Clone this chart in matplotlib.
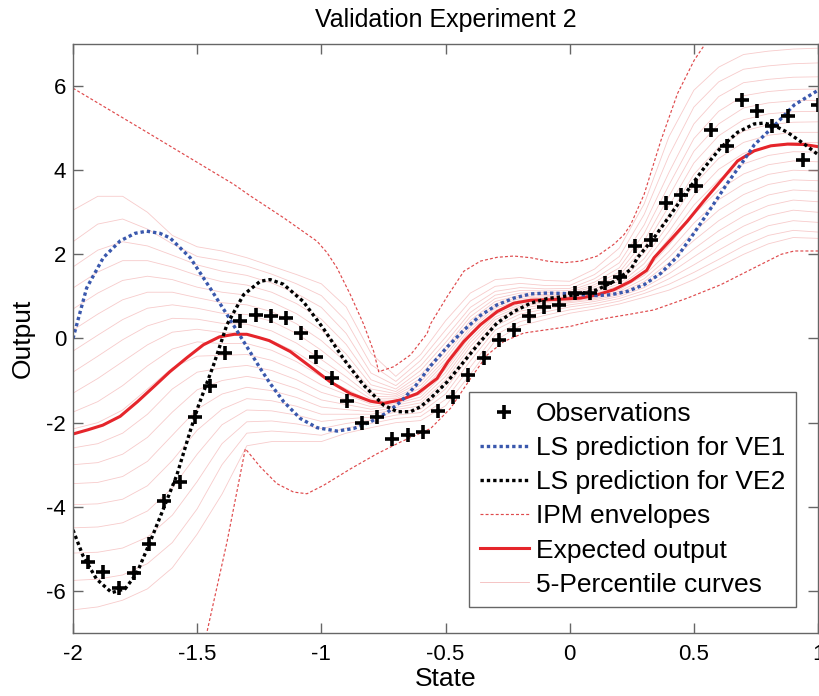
import numpy as np
import matplotlib
matplotlib.use('Agg')
import matplotlib.pyplot as plt

plt.rcParams['font.family'] = ['Liberation Sans', 'DejaVu Sans']
plt.rcParams['axes.unicode_minus'] = False
plt.rcParams['font.size'] = 19

# observations from validation experiment 2
obs_x = [-1.939, -1.878, -1.816, -1.755, -1.694, -1.633, -1.571, -1.510, -1.449, -1.388,
         -1.327, -1.265, -1.204, -1.143, -1.082, -1.020, -0.959, -0.898, -0.837, -0.776,
         -0.714, -0.653, -0.592, -0.531, -0.469, -0.408, -0.347, -0.286, -0.224, -0.163,
         -0.102, -0.041, 0.020, 0.082, 0.143, 0.204, 0.265, 0.327, 0.388, 0.449,
         0.510, 0.571, 0.633, 0.694, 0.755, 0.816, 0.878, 0.939, 1.000]
obs_y = [-5.31, -5.56, -5.92, -5.58, -4.89, -3.87, -3.40, -1.86, -1.13, -0.35,
         0.41, 0.57, 0.53, 0.48, 0.13, -0.43, -0.93, -1.49, -2.00, -1.86,
         -2.39, -2.30, -2.22, -1.73, -1.40, -0.87, -0.47, -0.03, 0.21, 0.54,
         0.76, 0.80, 1.08, 1.08, 1.32, 1.46, 2.20, 2.33, 3.21, 3.41,
         3.63, 4.96, 4.58, 5.66, 5.40, 5.06, 5.30, 4.24, 5.54]

# least squares prediction calibrated on VE1
ve1_x = [-2.0, -1.945, -1.878, -1.81, -1.75, -1.703, -1.65, -1.609, -1.528, -1.448,
         -1.38, -1.313, -1.246, -1.206, -1.152, -1.085, -1.017, -0.937, -0.870, -0.802,
         -0.735, -0.68, -0.62, -0.56, -0.493, -0.426, -0.359, -0.292, -0.225, -0.157,
         -0.09, -0.023, 0.044, 0.111, 0.165, 0.232, 0.30, 0.367, 0.434, 0.50,
         0.569, 0.636, 0.703, 0.743, 0.824, 0.904, 1.0]
ve1_y = [0.0, 1.2, 1.92, 2.32, 2.5, 2.55, 2.5, 2.39, 1.92, 1.20,
         0.57, -0.07, -0.71, -1.07, -1.50, -1.90, -2.12, -2.20, -2.14, -1.98,
         -1.76, -1.5, -1.12, -0.65, -0.2, 0.2, 0.55, 0.80, 0.96, 1.06,
         1.08, 1.07, 1.04, 1.02, 1.04, 1.12, 1.28, 1.55, 1.95, 2.5,
         3.1, 3.7, 4.25, 4.6, 5.06, 5.55, 5.9]

# least squares prediction calibrated on VE2
ve2_x = [-2.0, -1.96, -1.905, -1.844, -1.79, -1.743, -1.69, -1.636, -1.582, -1.528,
         -1.495, -1.434, -1.38, -1.313, -1.246, -1.206, -1.153, -1.073, -0.992, -0.911,
         -0.831, -0.750, -0.694, -0.641, -0.60, -0.56, -0.493, -0.426, -0.359, -0.292,
         -0.225, -0.157, -0.090, -0.023, 0.044, 0.111, 0.179, 0.246, 0.273, 0.340,
         0.407, 0.474, 0.542, 0.609, 0.676, 0.743, 0.783, 0.824, 0.877, 0.945, 1.0]
ve2_y = [-4.55, -5.16, -5.72, -6.04, -5.95, -5.58, -4.84, -4.05, -3.25, -2.2,
         -1.6, -0.63, 0.33, 1.04, 1.36, 1.40, 1.29, 0.88, 0.24, -0.48,
         -1.10, -1.58, -1.74, -1.74, -1.62, -1.42, -1.03, -0.55, -0.07, 0.37,
         0.64, 0.84, 0.95, 1.00, 1.06, 1.16, 1.36, 1.64, 1.92, 2.40,
         2.95, 3.51, 4.06, 4.54, 4.90, 5.10, 5.12, 5.06, 4.90, 4.62, 4.37]

# expected model output
exp_x = [-2.0, -1.94, -1.88, -1.81, -1.74, -1.67, -1.61, -1.54, -1.475, -1.41,
         -1.35, -1.30, -1.25, -1.21, -1.125, -1.044, -0.964, -0.883, -0.802, -0.749,
         -0.681, -0.614, -0.534, -0.49, -0.426, -0.359, -0.292, -0.225, -0.157, -0.09,
         -0.023, 0.044, 0.111, 0.178, 0.246, 0.31, 0.340, 0.407, 0.474, 0.54,
         0.609, 0.676, 0.743, 0.810, 0.877, 0.945, 1.0]
exp_y = [-2.27, -2.17, -2.06, -1.85, -1.50, -1.12, -0.79, -0.45, -0.15, 0.04,
         0.10, 0.10, 0.02, -0.05, -0.31, -0.67, -1.03, -1.31, -1.49, -1.54,
         -1.46, -1.31, -0.95, -0.55, -0.07, 0.33, 0.64, 0.84, 0.91, 0.92,
         0.94, 0.96, 1.04, 1.16, 1.36, 1.62, 1.92, 2.35, 2.79, 3.27,
         3.75, 4.22, 4.46, 4.58, 4.62, 4.61, 4.56]

# IPM envelopes
ipm_up_x = [-2.0, -1.69, -1.354, -1.286, -1.152, -1.017, -0.977, -0.937, -0.883, -0.829,
            -0.789, -0.769, -0.708, -0.641, -0.574, -0.56, -0.493, -0.426, -0.359, -0.292,
            -0.225, -0.157, -0.09, -0.023, 0.044, 0.111, 0.178, 0.219, 0.246, 0.30,
            0.367, 0.434, 0.501, 0.542, 0.58]
ipm_up_y = [5.95, 4.86, 3.67, 3.39, 2.87, 2.31, 2.04, 1.68, 1.04, 0.33,
            -0.31, -0.79, -0.67, -0.39, 0.12, 0.35, 1.0, 1.6, 1.84, 1.93,
            1.96, 1.92, 1.84, 1.80, 1.84, 1.96, 2.24, 2.47, 2.71, 3.43,
            4.70, 5.82, 6.61, 6.97, 7.5]
ipm_lo_x = [-1.475, -1.461, -1.38, -1.306, -1.246, -1.179, -1.112, -1.058, -0.991, -0.883,
            -0.776, -0.681, -0.56, -0.48, -0.399, -0.332, -0.265, -0.185, -0.09, 0.004,
            0.085, 0.165, 0.246, 0.34, 0.474, 0.609, 0.743, 0.851, 0.904, 1.0]
ipm_lo_y = [-7.3, -6.99, -4.84, -2.62, -3.05, -3.45, -3.65, -3.69, -3.49, -3.10,
            -2.74, -2.46, -2.14, -1.66, -0.95, -0.39, -0.07, 0.13, 0.21, 0.29,
            0.41, 0.50, 0.58, 0.68, 0.96, 1.28, 1.68, 2.00, 2.08, 2.08]

# 5-percentile curves (5% ... 95%)
pct_x = [-2.0, -1.9, -1.8, -1.7, -1.6, -1.5, -1.4, -1.3, -1.2, -1.1, -1.0,
         -0.9, -0.8, -0.7, -0.6, -0.5, -0.4, -0.3, -0.2, -0.1, 0.0,
         0.1, 0.2, 0.3, 0.4, 0.5, 0.6, 0.7, 0.8, 0.9, 1.0]
pct_curves = [
    [-6.45, -6.38, -6.22, -5.95, -5.45, -4.65, -3.7, -2.55, -2.45, -2.45, -2.45, -2.25, -2.12, -2.0, -1.95, -1.6, -0.85, -0.05, 0.3, 0.45, 0.6, 0.7, 0.82, 0.98, 1.15, 1.4, 1.7, 2.0, 2.25, 2.4, 2.38],
    [-5.75, -5.72, -5.62, -5.35, -4.85, -4.05, -3.0, -2.25, -2.2, -2.24, -2.3, -2.13, -2.02, -1.9, -1.85, -1.45, -0.68, 0.08, 0.4, 0.55, 0.68, 0.77, 0.89, 1.07, 1.29, 1.57, 1.88, 2.2, 2.45, 2.57, 2.53],
    [-5.1, -5.08, -4.98, -4.72, -4.2, -3.4, -2.5, -1.98, -1.96, -2.03, -2.14, -2.02, -1.94, -1.82, -1.76, -1.32, -0.53, 0.2, 0.5, 0.63, 0.75, 0.83, 0.95, 1.14, 1.42, 1.75, 2.1, 2.43, 2.68, 2.8, 2.76],
    [-4.5, -4.48, -4.38, -4.1, -3.55, -2.75, -2.05, -1.7, -1.72, -1.82, -1.97, -1.91, -1.87, -1.75, -1.68, -1.2, -0.4, 0.3, 0.58, 0.7, 0.8, 0.88, 1.0, 1.21, 1.54, 1.94, 2.33, 2.67, 2.92, 3.05, 3.0],
    [-3.95, -3.93, -3.82, -3.5, -2.9, -2.18, -1.68, -1.43, -1.48, -1.61, -1.8, -1.8, -1.8, -1.69, -1.6, -1.09, -0.29, 0.38, 0.65, 0.76, 0.85, 0.92, 1.04, 1.28, 1.67, 2.13, 2.56, 2.91, 3.16, 3.29, 3.25],
    [-3.45, -3.42, -3.28, -2.92, -2.3, -1.68, -1.32, -1.16, -1.24, -1.4, -1.63, -1.69, -1.74, -1.64, -1.53, -0.99, -0.19, 0.45, 0.71, 0.81, 0.88, 0.95, 1.08, 1.35, 1.8, 2.33, 2.8, 3.16, 3.41, 3.53, 3.5],
    [-3.0, -2.95, -2.75, -2.35, -1.75, -1.22, -1.0, -0.9, -1.0, -1.19, -1.46, -1.57, -1.68, -1.59, -1.46, -0.9, -0.1, 0.51, 0.76, 0.85, 0.91, 0.98, 1.12, 1.42, 1.93, 2.53, 3.05, 3.42, 3.66, 3.77, 3.75],
    [-2.6, -2.5, -2.25, -1.8, -1.2, -0.8, -0.7, -0.64, -0.76, -0.98, -1.28, -1.45, -1.62, -1.55, -1.39, -0.81, -0.02, 0.57, 0.8, 0.88, 0.93, 1.01, 1.16, 1.5, 2.07, 2.74, 3.3, 3.67, 3.9, 4.0, 3.98],
    [-2.15, -2.0, -1.7, -1.2, -0.7, -0.42, -0.4, -0.38, -0.52, -0.77, -1.1, -1.33, -1.56, -1.51, -1.32, -0.73, 0.06, 0.62, 0.84, 0.91, 0.95, 1.04, 1.2, 1.58, 2.22, 2.95, 3.53, 3.91, 4.13, 4.22, 4.2],
    [-1.75, -1.5, -1.12, -0.65, -0.25, -0.08, -0.12, -0.12, -0.28, -0.55, -0.91, -1.2, -1.5, -1.47, -1.25, -0.65, 0.13, 0.67, 0.87, 0.93, 0.97, 1.07, 1.25, 1.67, 2.38, 3.17, 3.77, 4.15, 4.35, 4.44, 4.43],
    [-1.3, -0.95, -0.55, -0.15, 0.15, 0.22, 0.14, 0.12, -0.05, -0.33, -0.71, -1.06, -1.44, -1.43, -1.18, -0.57, 0.2, 0.72, 0.91, 0.96, 0.99, 1.1, 1.3, 1.78, 2.55, 3.4, 4.02, 4.4, 4.58, 4.66, 4.66],
    [-0.8, -0.42, -0.03, 0.3, 0.48, 0.46, 0.36, 0.34, 0.18, -0.11, -0.5, -0.91, -1.37, -1.39, -1.11, -0.49, 0.27, 0.77, 0.95, 0.99, 1.01, 1.14, 1.36, 1.9, 2.73, 3.65, 4.28, 4.66, 4.83, 4.9, 4.9],
    [-0.3, 0.08, 0.45, 0.72, 0.8, 0.72, 0.6, 0.57, 0.41, 0.12, -0.28, -0.75, -1.29, -1.35, -1.03, -0.4, 0.35, 0.82, 0.99, 1.02, 1.04, 1.18, 1.42, 2.03, 2.93, 3.9, 4.55, 4.93, 5.08, 5.14, 5.15],
    [0.2, 0.58, 0.92, 1.1, 1.1, 0.97, 0.85, 0.8, 0.64, 0.35, -0.05, -0.57, -1.2, -1.31, -0.95, -0.31, 0.43, 0.88, 1.03, 1.05, 1.07, 1.23, 1.5, 2.17, 3.15, 4.17, 4.82, 5.2, 5.34, 5.39, 5.4],
    [0.7, 1.08, 1.38, 1.48, 1.4, 1.22, 1.1, 1.03, 0.87, 0.59, 0.2, -0.37, -1.1, -1.26, -0.86, -0.21, 0.52, 0.95, 1.08, 1.09, 1.1, 1.28, 1.58, 2.32, 3.38, 4.45, 5.1, 5.48, 5.6, 5.65, 5.66],
    [1.2, 1.58, 1.85, 1.85, 1.7, 1.5, 1.35, 1.27, 1.1, 0.83, 0.46, -0.14, -0.98, -1.2, -0.76, -0.1, 0.62, 1.03, 1.14, 1.13, 1.14, 1.34, 1.68, 2.5, 3.65, 4.75, 5.4, 5.77, 5.87, 5.92, 5.93],
    [1.7, 2.1, 2.3, 2.2, 1.98, 1.75, 1.6, 1.5, 1.32, 1.07, 0.74, 0.12, -0.82, -1.12, -0.65, 0.03, 0.74, 1.12, 1.21, 1.18, 1.19, 1.42, 1.8, 2.7, 3.95, 5.1, 5.75, 6.08, 6.16, 6.21, 6.22],
    [2.3, 2.72, 2.84, 2.6, 2.25, 1.95, 1.85, 1.72, 1.53, 1.3, 1.02, 0.42, -0.62, -1.02, -0.52, 0.2, 0.89, 1.24, 1.31, 1.26, 1.26, 1.52, 1.95, 2.95, 4.35, 5.5, 6.1, 6.4, 6.48, 6.53, 6.55],
    [3.05, 3.38, 3.38, 3.0, 2.45, 2.18, 2.08, 1.92, 1.72, 1.52, 1.3, 0.75, -0.35, -0.9, -0.38, 0.42, 1.08, 1.4, 1.45, 1.38, 1.36, 1.65, 2.15, 3.2, 4.8, 5.9, 6.45, 6.75, 6.83, 6.88, 6.9],
]

fig = plt.figure(figsize=(8.2, 6.96), dpi=100)
ax = fig.add_axes([0.089, 0.0905, 0.9086, 0.8463])

# faint percentile family underneath everything else
pct_handles = []
for curve in pct_curves:
    h, = ax.plot(pct_x, curve, color=(0.93, 0.55, 0.55), lw=0.6, alpha=0.45)
    pct_handles.append(h)
h_pct = pct_handles[0]
h_pct.set_label('5-Percentile curves')

env_style = dict(color='#df4a4c', lw=0.85, ls=(0, (2.5, 1.8)))
h_ipm, = ax.plot(ipm_up_x, ipm_up_y, label='IPM envelopes', **env_style)
ax.plot(ipm_lo_x, ipm_lo_y, **env_style)

h_exp, = ax.plot(exp_x, exp_y, color='#e5252b', lw=2.2, label='Expected output')
dots = (0, (1, 0.9))
h_ve1, = ax.plot(ve1_x, ve1_y, color='#3a58ad', lw=2.4, ls=dots, label='LS prediction for VE1')
h_ve2, = ax.plot(ve2_x, ve2_y, color='black', lw=2.4, ls=dots, label='LS prediction for VE2')
h_obs, = ax.plot(obs_x, obs_y, ls='none', marker='+', color='black', ms=10, mew=2.6,
                 label='Observations')

ax.set_xlim(-2, 1)
ax.set_ylim(-7, 7)
ax.set_xticks([-2, -1.5, -1, -0.5, 0, 0.5, 1])
ax.set_xticklabels(['-2', '-1.5', '-1', '-0.5', '0', '0.5', '1'])
ax.set_yticks([-6, -4, -2, 0, 2, 4, 6])
ax.tick_params(direction='in', top=True, right=True, length=7, width=1,
               color='#666666', labelsize=16)
ax.tick_params(axis='x', pad=8)
ax.tick_params(axis='y', pad=5)
for sp in ax.spines.values():
    sp.set_color('#666666')
    sp.set_linewidth(1)

ax.set_title('Validation Experiment 2', fontsize=18, pad=12)
ax.set_xlabel('State', labelpad=1)
ax.set_ylabel('Output', labelpad=8)

leg = ax.legend(handles=[h_obs, h_ve1, h_ve2, h_ipm, h_exp, h_pct],
                loc='upper left', bbox_to_anchor=(0.572, 0.437), bbox_transform=fig.transFigure,
                fancybox=False, framealpha=1, edgecolor='#666666', borderaxespad=0,
                handlelength=1.86, handletextpad=0.27, labelspacing=0.38, borderpad=0.4)
leg.get_frame().set_linewidth(1)
leg.legend_handles[5].set_alpha(0.6)

plt.savefig('out.png', dpi=100)
